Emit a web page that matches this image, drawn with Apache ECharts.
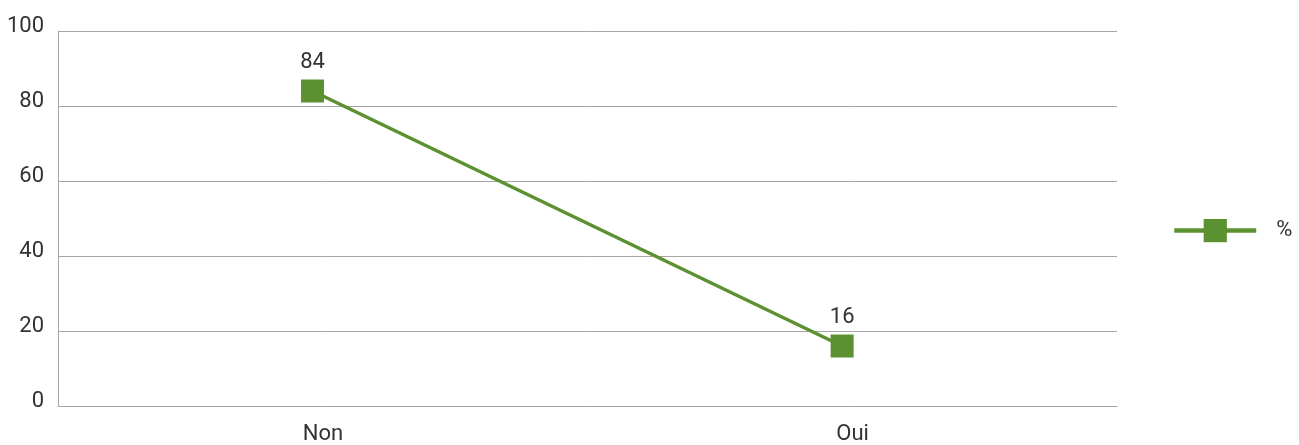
<!DOCTYPE html>
<html>
<head>
<meta charset="utf-8">
<script src="https://cdn.jsdelivr.net/npm/echarts@6/dist/echarts.min.js"></script>
<style>html,body{margin:0;padding:0;background:#fff}#c{width:1299px;height:445px}</style>
</head>
<body>
<div id="c"></div>
<script>
const categories = ['Non', 'Oui'];
const values = [84, 16];
const seriesName = '%';
const yTicks = [0, 20, 40, 60, 80, 100];

const green = '#5b9131';
const chart = echarts.init(document.getElementById('c'), null, {renderer: 'canvas'});
chart.setOption({
  animation: false,
  backgroundColor: '#fff',
  textStyle: {fontFamily: 'Roboto'},
  grid: {left: 58, right: 182, top: 31, bottom: 37.5, containLabel: false},
  legend: {
    data: [seriesName],
    left: 1172, top: 219, padding: 0,
    itemWidth: 82, itemHeight: 29,
    lineStyle: {width: 4.5},
    textStyle: {fontFamily: 'Roboto', fontSize: 22, color: '#333', padding: [0, 0, 0, 15]}
  },
  xAxis: {
    type: 'value',
    min: -0.4806, max: 1.519,
    splitLine: {show: false},
    axisTick: {show: false},
    axisLine: {show: true, lineStyle: {color: '#a6a6a6', width: 1}},
    axisLabel: {
      customValues: categories.map((c, i) => i),
      formatter: v => categories[Math.round(v)] || '',
      fontFamily: 'Roboto', fontSize: 22, color: '#333',
      margin: 17, padding: [0, 0, 0, 21]
    }
  },
  yAxis: {
    type: 'value',
    min: yTicks[0], max: yTicks[yTicks.length - 1], interval: 20,
    axisLine: {show: true, onZero: false, lineStyle: {color: '#a6a6a6', width: 1}},
    axisTick: {show: false},
    splitLine: {lineStyle: {color: '#a6a6a6', width: 1}},
    axisLabel: {fontFamily: 'Roboto', fontSize: 22, color: '#333', margin: 14,
      verticalAlign: 'bottom', lineHeight: 10}
  },
  series: [{
    name: seriesName,
    type: 'line',
    data: values.map((v, i) => [i, v]),
    symbol: 'rect',
    symbolSize: 23,
    lineStyle: {color: green, width: 3.5},
    itemStyle: {color: green},
    label: {show: true, position: 'top', distance: 6, fontFamily: 'Roboto', fontSize: 22, color: '#333',
      formatter: p => p.value[1]}
  }]
});
</script>
</body>
</html>
